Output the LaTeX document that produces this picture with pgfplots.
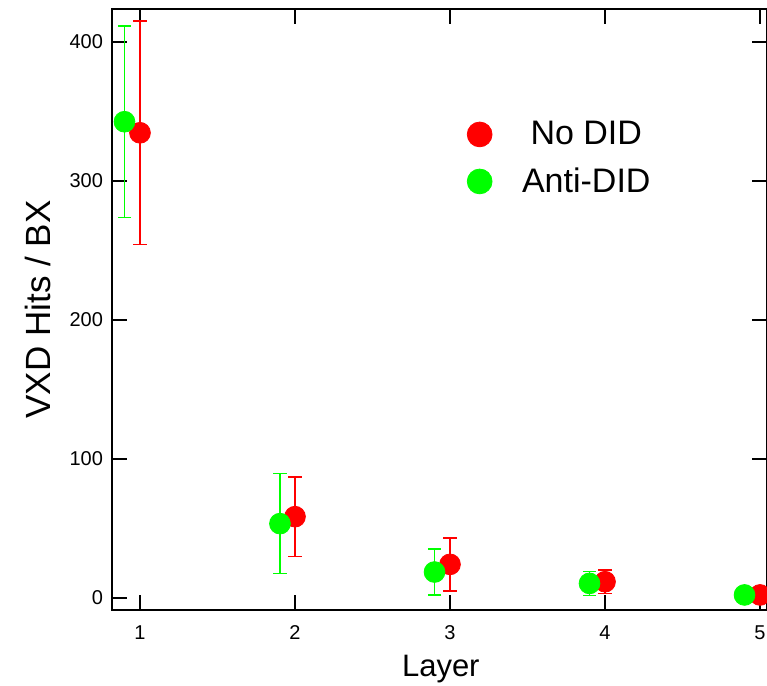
\documentclass[border=0pt]{standalone}
\usepackage{fontspec}
\setmainfont{Liberation Sans}
\usepackage{pgfplots}
\pgfplotsset{compat=1.18}
\definecolor{myred}{RGB}{255,0,0}
\definecolor{mygreen}{RGB}{0,255,0}
\begin{document}
\begin{tikzpicture}
\begin{axis}[
  scale only axis, width=327.5pt, height=300.5pt,
  xmin=0.8194, xmax=5.045, ymin=-8.63, ymax=423.7,
  xtick={1,2,3,4,5}, ytick={0,100,200,300,400},
  tick align=inside, major tick length=7.5pt,
  every tick/.style={black, line width=1pt},
  axis line style={line width=1pt},
  tick pos=both,
  /pgf/number format/assume math mode=true,
  ticklabel style={font=\fontsize{10}{12}\selectfont},
  xticklabel style={yshift=-4.3pt},
  yticklabel style={xshift=-1pt},
  xlabel={Layer}, ylabel={VXD Hits / BX},
  xlabel style={font=\fontsize{15.5}{18}\selectfont, at={(axis description cs:0.502,0)}, anchor=base, yshift=-33.5pt},
  ylabel style={font=\fontsize{17.5}{20}\selectfont, at={(axis description cs:-0.113,0.5)}, anchor=center},
  legend style={draw=none, fill=none, at={(axis cs:3.07,349)}, anchor=north west,
    font=\fontsize{17}{20}\selectfont, row sep=6pt,
    /tikz/every odd column/.style={column sep=13pt}},
  legend cell align=center,
  legend image post style={mark size=6.2pt},
]
\addplot[only marks, mark=*, mark size=5.2pt, color=myred,
  error bars/.cd, y dir=both, y explicit,
  error bar style={line width=0.75pt, myred},
  error mark options={rotate=90, mark size=3.3pt, line width=0.75pt, myred}]
  coordinates {
  (1,334.65) +- (0,80.25)
  (2,58.5) +- (0,28.5)
  (3,24.2) +- (0,19)
  (4,11.7) +- (0,8.3)
  (5,2.2) +- (0,1.5)
  };
\addlegendentry{No DID}
\addplot[only marks, mark=*, mark size=5.2pt, color=mygreen,
  error bars/.cd, y dir=both, y explicit,
  error bar style={line width=0.75pt, mygreen},
  error mark options={rotate=90, mark size=3.3pt, line width=0.75pt, mygreen}]
  coordinates {
  (0.9,342.6) +- (0,68.9)
  (1.903,53.5) +- (0,36)
  (2.9,18.7) +- (0,16.5)
  (3.9,10.5) +- (0,8.6)
  (4.9,2.2) +- (0,1.5)
  };
\addlegendentry{Anti-DID}
\end{axis}
\pgfresetboundingbox
\path[use as bounding box] (-56pt,-38pt) rectangle (327.5pt,305pt);
\end{tikzpicture}
\end{document}
